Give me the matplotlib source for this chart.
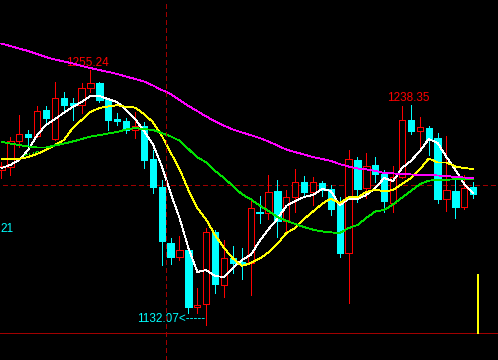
import matplotlib.pyplot as plt
from matplotlib import font_manager
from matplotlib.patches import Rectangle

# candles (open, high, low, close)
opens = [1206.9, 1208.4, 1221.0, 1224.3, 1223.4, 1235.9, 1221.9, 1241.7, 1239.3, 1238.3,
         1246.6, 1249.0, 1241.2, 1231.6, 1230.6, 1226.3, 1228.2, 1212.3, 1198.7, 1171.7,
         1164.9, 1168.3, 1140.8, 1142.2, 1177.0, 1151.4, 1164.4, 1162.5, 1162.0, 1186.7,
         1186.2, 1196.8, 1182.3, 1193.9, 1201.1, 1196.3, 1200.7, 1197.8, 1191.5, 1166.9,
         1211.8, 1198.3, 1209.4, 1205.0, 1191.0, 1203.6, 1231.1, 1225.8, 1227.2, 1222.4,
         1192.9, 1196.8, 1189.1, 1198.7]
highs = [1210.8, 1222.9, 1233.5, 1226.3, 1237.9, 1237.9, 1249.5, 1244.6, 1241.7, 1249.0,
         1255.24, 1249.5, 1241.7, 1234.5, 1232.1, 1235.0, 1230.1, 1216.6, 1202.1, 1174.1,
         1175.1, 1168.3, 1150.0, 1178.9, 1178.0, 1173.1, 1170.2, 1169.3, 1192.9, 1194.4,
         1204.5, 1202.1, 1197.3, 1207.4, 1204.0, 1203.6, 1201.6, 1199.7, 1193.9, 1216.6,
         1213.2, 1215.2, 1213.2, 1206.9, 1208.9, 1237.9, 1238.35, 1232.5, 1228.2, 1224.8,
         1223.4, 1202.6, 1204.5, 1201.1]
lows = [1203.1, 1204.5, 1218.1, 1217.6, 1222.9, 1230.1, 1221.4, 1235.0, 1231.1, 1234.5,
        1244.6, 1239.8, 1226.3, 1228.7, 1224.8, 1222.4, 1207.9, 1195.8, 1161.1, 1161.5,
        1163.5, 1137.9, 1137.9, 1132.07, 1147.5, 1145.6, 1157.2, 1154.3, 1146.6, 1181.3,
        1183.3, 1174.6, 1177.0, 1186.7, 1194.4, 1190.0, 1194.4, 1185.2, 1164.9, 1142.7,
        1191.5, 1193.4, 1201.1, 1186.7, 1186.7, 1203.1, 1224.3, 1216.1, 1214.2, 1191.0,
        1187.1, 1183.8, 1188.1, 1193.4]
closes = [1208.9, 1221.0, 1224.3, 1222.9, 1235.4, 1232.1, 1241.7, 1238.3, 1238.3, 1246.6,
          1249.0, 1240.8, 1231.1, 1230.6, 1226.3, 1228.2, 1211.8, 1198.7, 1172.6, 1164.9,
          1168.3, 1140.8, 1141.7, 1177.0, 1151.9, 1164.4, 1162.0, 1161.5, 1188.6, 1186.2,
          1196.3, 1182.3, 1193.9, 1201.1, 1196.3, 1201.1, 1197.3, 1188.1, 1166.9, 1212.3,
          1197.8, 1208.9, 1205.0, 1192.0, 1203.6, 1231.1, 1225.8, 1227.7, 1221.9, 1192.9,
          1197.3, 1189.1, 1198.3, 1195.4]

# moving averages
ma5 = [1207.9, 1209.4, 1211.8, 1216.6, 1223.8, 1228.7, 1231.6, 1234.5, 1237.4, 1239.8,
       1242.7, 1242.7, 1241.2, 1239.8, 1235.9, 1231.6, 1225.8, 1219.5, 1208.9, 1195.8,
       1183.8, 1169.3, 1157.7, 1158.6, 1155.7, 1155.3, 1159.6, 1163.5, 1165.9, 1172.6,
       1178.4, 1183.3, 1189.6, 1192.0, 1193.9, 1194.9, 1197.8, 1196.8, 1190.0, 1192.9,
       1192.9, 1194.9, 1198.2, 1203.1, 1201.6, 1207.9, 1211.3, 1216.1, 1221.9, 1220.0,
       1213.2, 1206.9, 1200.2, 1195.8]
ma10 = [1212.3, 1212.3, 1212.3, 1213.2, 1214.7, 1216.6, 1219.0, 1221.4, 1227.2, 1231.1,
        1235.0, 1236.9, 1237.6, 1238.3, 1237.4, 1237.1, 1234.0, 1230.1, 1223.6, 1215.4,
        1207.4, 1197.3, 1188.6, 1183.0, 1175.5, 1169.3, 1164.2, 1160.6, 1162.0, 1164.2,
        1167.1, 1171.2, 1176.5, 1178.9, 1183.3, 1186.9, 1190.5, 1193.2, 1191.0, 1193.7,
        1193.7, 1196.3, 1197.5, 1196.6, 1197.3, 1200.2, 1203.1, 1207.2, 1212.5, 1210.6,
        1210.6, 1208.6, 1207.9, 1207.4]
ma20 = [1220.5, 1219.7, 1219.0, 1218.3, 1217.8, 1217.8, 1218.8, 1219.7, 1220.7, 1221.9,
        1223.1, 1223.8, 1224.6, 1225.3, 1226.5, 1227.2, 1226.7, 1226.3, 1224.8, 1223.2,
        1221.1, 1217.1, 1213.0, 1210.7, 1206.5, 1203.1, 1199.2, 1195.3, 1192.8, 1189.8,
        1187.2, 1184.2, 1182.4, 1180.9, 1179.4, 1178.1, 1177.3, 1176.8, 1176.5, 1178.9,
        1180.4, 1183.8, 1186.9, 1187.7, 1190.3, 1193.6, 1196.8, 1200.1, 1201.8, 1202.1,
        1202.2, 1202.5, 1202.7, 1202.4]
ma60 = [1268.0, 1266.8, 1265.6, 1264.4, 1263.0, 1261.5, 1260.3, 1259.4, 1258.4, 1257.2,
        1256.2, 1255.2, 1254.3, 1253.3, 1252.1, 1250.9, 1249.7, 1247.8, 1245.6, 1243.7,
        1240.8, 1237.9, 1235.4, 1232.8, 1230.4, 1228.4, 1226.5, 1225.1, 1223.8, 1222.4,
        1220.7, 1218.8, 1216.8, 1215.6, 1214.4, 1213.2, 1212.3, 1211.3, 1209.8, 1208.6,
        1207.7, 1207.2, 1206.5, 1205.5, 1205.3, 1205.0, 1204.8, 1204.5, 1204.5, 1204.3,
        1204.0, 1203.6, 1203.3, 1203.1]

cross_x = 18.5
cross_y = 1199.7
bottom_price = 1128.2
last_bar_top = 1156.2

red = '#FF0000'
cyan = '#00FFFF'
px = 0.72  # one pixel in points
ma_lw = 0.6

fig = plt.figure(figsize=(4.98, 3.60), dpi=100, facecolor='black')
ax = fig.add_axes([0, 0, 1, 1])
ax.set_facecolor('black')
ax.set_xlim(-0.1685, 55.787)
ax.set_ylim(1115.17, 1289.05)
ax.axis('off')

w = 0.7
for i in range(len(opens)):
    o, h, l, c = opens[i], highs[i], lows[i], closes[i]
    if c >= o:
        ax.plot([i, i], [h, c], color=red, lw=px, antialiased=False, zorder=3)
        ax.plot([i, i], [o, l], color=red, lw=px, antialiased=False, zorder=3)
        ax.add_patch(Rectangle((i - w / 2, o), w, c - o, facecolor='black',
                               edgecolor=red, lw=px, antialiased=False, zorder=3))
    else:
        ax.plot([i, i], [h, l], color=cyan, lw=px, antialiased=False, zorder=3)
        ax.add_patch(Rectangle((i - w / 2, c), w, o - c, facecolor=cyan,
                               edgecolor=cyan, lw=px, antialiased=False, zorder=3))

x = list(range(len(opens)))
ax.plot(x, ma5, color='white', lw=ma_lw, antialiased=False, zorder=4)
ax.plot(x, ma10, color='#FFFF00', lw=ma_lw, antialiased=False, zorder=4)
ax.plot(x, ma20, color='#00E000', lw=ma_lw, antialiased=False, zorder=4)
ax.plot(x, ma60, color='#FF00FF', lw=ma_lw, antialiased=False, zorder=4)

# crosshair and frame
dash = (0, (5, 3))
ax.axvline(cross_x, color='#A00000', lw=px, ls=dash, antialiased=False, zorder=5)
ax.axhline(cross_y, xmin=0.006, color='#A00000', lw=px, ls=dash, antialiased=False, zorder=2)
ax.axhline(bottom_price, color='#A00000', lw=px, antialiased=False, zorder=2)
ax.plot([53.5, 53.5], [bottom_price, last_bar_top], color='#FFFF00', lw=1.2,
        antialiased=False, zorder=3)

names = {f.name for f in font_manager.fontManager.ttflist}
if 'Liberation Sans Narrow' in names:
    font, fs = ['Liberation Sans Narrow', 'DejaVu Sans'], 9.5
else:
    font, fs = ['Liberation Sans', 'DejaVu Sans'], 8.5

ax.annotate('1255.24', (10, 1255.24), xytext=(-2, 3), textcoords='offset points',
            ha='center', va='baseline', color=red, fontsize=fs, family=font)
ax.annotate('1238.35', (46, 1238.35), xytext=(-2, 3), textcoords='offset points',
            ha='center', va='baseline', color=red, fontsize=fs, family=font)
ax.annotate('1132.07<-----', (23, 1132.07), xytext=(-1, 2), textcoords='offset points',
            ha='right', va='baseline', color=cyan, fontsize=fs, family=font)
ax.text(0, 1 - 232 / 360, '21', transform=ax.transAxes, ha='left',
        va='baseline', color=cyan, fontsize=fs, family=font)

fig.savefig('out.png', dpi=100, facecolor='black')
